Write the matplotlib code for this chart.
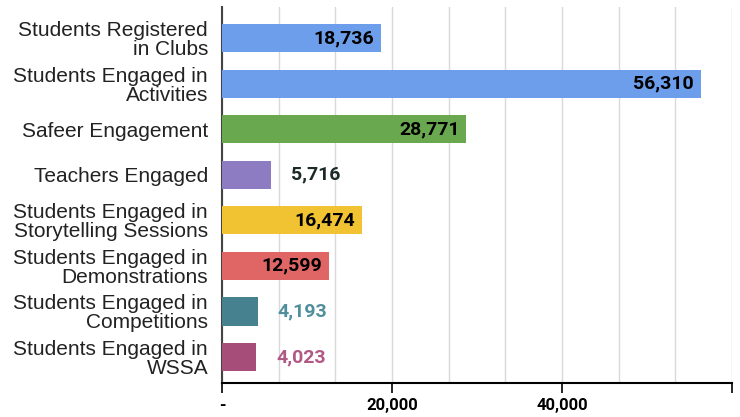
import matplotlib.pyplot as plt
import numpy as np
from matplotlib.ticker import FixedLocator, MultipleLocator

categories = ['Students Registered\nin Clubs', 'Students Engaged in\nActivities',
              'Safeer Engagement', 'Teachers Engaged',
              'Students Engaged in\nStorytelling Sessions', 'Students Engaged in\nDemonstrations',
              'Students Engaged in\nCompetitions', 'Students Engaged in\nWSSA']
values = [18736, 56310, 28771, 5716, 16474, 12599, 4193, 4023]
bar_colors = ['#6d9eeb', '#6d9eeb', '#6aa84f', '#8e7cc3', '#f1c232', '#e06666', '#45818e', '#a64d79']
label_colors = ['#000000', '#000000', '#000000', '#1b2a27', '#000000', '#000000', '#4f8f9c', '#b05985']
inside = [True, True, True, False, True, True, False, False]
xticks = [0, 20000, 40000, 60000]
xtick_labels = ['-', '20,000', '40,000', '']

fig = plt.figure(figsize=(7.4, 4.17), dpi=100)
ax = fig.add_axes([0.3, 0.0815, 0.689, 0.9015])

y = np.arange(len(categories))
ax.barh(y, values, height=0.62, color=bar_colors, zorder=3)

# value labels: inside the bar end for big bars, just past it for small ones
for yi, v, c, ins in zip(y, values, label_colors, inside):
    if ins:
        ax.annotate(f'{v:,}', (v, yi), xytext=(-7, 0), textcoords='offset pixels',
                    ha='right', va='center', fontsize=14, fontweight='bold',
                    family='Roboto', color=c, zorder=4)
    else:
        ax.annotate(f'{v:,}', (v, yi), xytext=(20, 0), textcoords='offset pixels',
                    ha='left', va='center', fontsize=14, fontweight='bold',
                    family='Roboto', color=c, zorder=4)

ax.set_xlim(0, 60000)
ax.set_ylim(7.57, -0.68)
ax.set_yticks(y)
ax.set_yticklabels(categories, family='Liberation Sans', fontsize=15, linespacing=1.0)
ax.tick_params(axis='y', length=0, pad=10, colors='#222222')

ax.xaxis.set_major_locator(FixedLocator(xticks))
ax.set_xticklabels(xtick_labels, family='Roboto', fontweight='bold', fontsize=12)
ax.xaxis.set_minor_locator(MultipleLocator(60000 / 9))
ax.tick_params(axis='x', which='major', length=7, width=1.2, direction='out', pad=4)
ax.tick_params(axis='x', which='minor', length=0)
ax.grid(axis='x', which='both', color='#d9d9d9', linewidth=1, zorder=0)

for s in ['top', 'right']:
    ax.spines[s].set_visible(False)
ax.spines['left'].set_color('#444444')
ax.spines['left'].set_linewidth(1.5)
ax.spines['bottom'].set_linewidth(1.5)
ax.spines['bottom'].set_zorder(5)

fig.savefig('out.png', dpi=100)
